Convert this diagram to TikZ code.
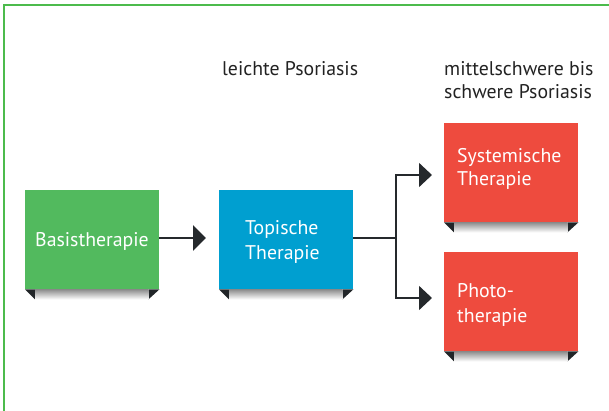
\documentclass[tikz,border=0pt]{standalone}
\usepackage{fontspec}
\setmainfont{PT Sans}
\usetikzlibrary{arrows.meta,calc}
\definecolor{framegreen}{HTML}{4CBB4C}
\definecolor{boxgreen}{HTML}{52BA5E}
\definecolor{boxblue}{HTML}{009FD0}
\definecolor{boxred}{HTML}{EE4B3E}
\definecolor{arrowdark}{HTML}{25292C}
\definecolor{labeldark}{HTML}{222222}
\tikzset{
  box/.style={draw=none, minimum width=134pt, minimum height=99pt, inner sep=0pt, anchor=north west},
  boxtext/.style={text=white, font=\fontsize{19.8}{24}\selectfont, inner sep=0pt},
  lbl/.style={text=labeldark, font=\fontsize{19.8}{24}\selectfont, inner sep=0pt, anchor=base west},
  conn/.style={draw=arrowdark, line width=2.4pt},
  thinconn/.style={draw=arrowdark, line width=1.6pt},
  bigtip/.style={-{Triangle[length=13pt,width=25pt]}},
}
\newcommand\boxshadow[1]{%
  \fill[arrowdark!90!black] ($(#1.south west)$) -- ++(10,0) -- ++(0,10) -- cycle;
  \fill[arrowdark!90!black] ($(#1.south east)$) -- ++(-11,0) -- ++(0,10) -- cycle;
  \shade[top color=black!45, bottom color=white] ($(#1.south west)+(10,0)$) rectangle ($(#1.south east)+(-11,10)$);
}
\begin{document}
\begin{tikzpicture}[x=1pt,y=-1pt]
\useasboundingbox (0,0) rectangle (609,411);
% frame
\draw[framegreen, line width=1.6pt] (4,411) -- (4,5) -- (609,5);
% boxes
\node[box, fill=boxgreen] (basis) at (25,190) {};
\node[box, fill=boxblue] (topisch) at (219,190) {};
\node[box, fill=boxred] (system) at (444,123) {};
\node[box, fill=boxred] (photo) at (444,252) {};
\boxshadow{basis}
\boxshadow{topisch}
\boxshadow{system}
\boxshadow{photo}
\node[box, fill=boxgreen] at (25,190) {};
\node[box, fill=boxblue] at (219,190) {};
\node[box, fill=boxred] at (444,123) {};
\node[box, fill=boxred] at (444,252) {};
% texts
\node[boxtext, anchor=base] (tbasis) at (92,247) {Basistherapie};
\node[boxtext, anchor=base west] (ttop1) at (245,235) {Topische};
\node[boxtext, anchor=base west] (ttop2) at (245,259) {Therapie};
\node[boxtext, anchor=base west] (tsys1) at (457,163) {Systemische};
\node[boxtext, anchor=base west] (tsys2) at (457,186) {Therapie};
\node[boxtext, anchor=base west] (tph1) at (457,297) {Photo-};
\node[boxtext, anchor=base west] (tph2) at (457,322) {therapie};
\node[lbl] (l1) at (222,76) {leichte Psoriasis};
\node[lbl] (l2) at (444,76) {mittelschwere bis};
\node[lbl] (l3) at (444,99) {schwere Psoriasis};
% connectors
\coordinate (tip1) at (206,238);
\coordinate (fork) at (396,238);
\coordinate (tip2) at (432,175);
\coordinate (tip3) at (432,298);
\draw[conn, bigtip, arrowdark] (basis.east |- tip1) -- (tip1);
\draw[conn] (topisch.east |- fork) -- (fork);
\draw[thinconn, -{Triangle[length=13pt,width=24pt]}, arrowdark] (fork) |- (tip2);
\draw[thinconn, -{Triangle[length=13pt,width=24pt]}, arrowdark] (fork) |- (tip3);
\end{tikzpicture}
\end{document}
